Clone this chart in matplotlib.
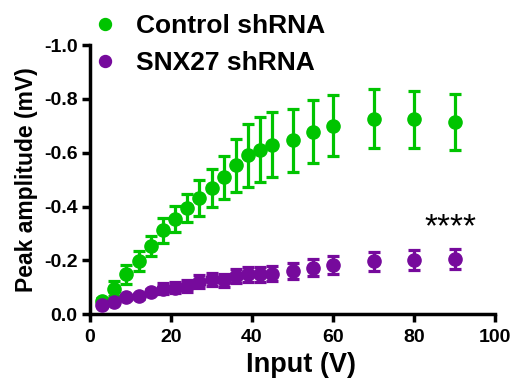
import matplotlib
matplotlib.use("Agg")
import matplotlib.pyplot as plt

plt.rcParams['font.family'] = ['Liberation Sans', 'DejaVu Sans']
plt.rcParams['font.weight'] = 'bold'
plt.rcParams['axes.unicode_minus'] = False

inputs = [3, 6, 9, 12, 15, 18, 21, 24, 27, 30, 33, 36, 39, 42, 45, 50, 55, 60, 70, 80, 90]
control_mean = [-0.05, -0.095, -0.148, -0.197, -0.253, -0.312, -0.354, -0.395, -0.432, -0.469,
                -0.509, -0.553, -0.59, -0.611, -0.63, -0.646, -0.677, -0.70, -0.726, -0.725, -0.714]
control_err = [0.01, 0.028, 0.036, 0.037, 0.037, 0.046, 0.049, 0.052, 0.068, 0.072,
               0.08, 0.099, 0.118, 0.12, 0.12, 0.118, 0.117, 0.114, 0.11, 0.106, 0.105]
snx_mean = [-0.035, -0.047, -0.062, -0.066, -0.084, -0.095, -0.098, -0.105, -0.121, -0.13,
            -0.126, -0.142, -0.148, -0.148, -0.151, -0.16, -0.173, -0.183, -0.197, -0.201, -0.204]
snx_err = [0.005, 0.006, 0.008, 0.008, 0.01, 0.02, 0.02, 0.022, 0.024, 0.024,
           0.025, 0.026, 0.027, 0.028, 0.029, 0.03, 0.031, 0.033, 0.035, 0.037, 0.038]
yticks = [0.0, -0.2, -0.4, -0.6, -0.8, -1.0]
xticks = [0, 20, 40, 60, 80, 100]

green = '#00c400'
purple = '#760a9c'

fig = plt.figure(figsize=(5.16, 3.85), dpi=100)
ax = fig.add_axes([0.1744, 0.184, 0.785, 0.699])

ax.errorbar(inputs, control_mean, yerr=control_err, fmt='o', color=green, ms=9.5,
            elinewidth=2.3, capsize=4, capthick=2.3, clip_on=False, zorder=3)
ax.errorbar(inputs, snx_mean, yerr=snx_err, fmt='o', color=purple, ms=9.5,
            elinewidth=2.3, capsize=4, capthick=2.3, clip_on=False, zorder=3)

ax.set_xlim(0, 100)
ax.set_ylim(0, -1.0)
ax.set_xticks(xticks)
ax.set_yticks(yticks)
ax.set_yticklabels([f"{v:.1f}" for v in yticks])
for s in ['top', 'right']:
    ax.spines[s].set_visible(False)
for s in ['left', 'bottom']:
    ax.spines[s].set_linewidth(2.5)
ax.tick_params(width=2.5, length=6, labelsize=14, direction='out', pad=3)
ax.tick_params(axis='x', pad=5)
for lab in ax.get_xticklabels() + ax.get_yticklabels():
    lab.set_fontweight('bold')

ax.set_xlabel('Input (V)', fontsize=19.5, fontweight='bold', labelpad=4)
ax.xaxis.label.set_x(0.522)
ax.set_ylabel('Peak amplitude (mV)', fontsize=16.5, fontweight='bold', labelpad=4)

ax.text(89, -0.29, '****', fontsize=24, ha='center', va='baseline', fontweight='normal')

leg = fig.legend(handles=[
    plt.Line2D([], [], marker='o', ls='', color=green, ms=8.6, label='Control shRNA'),
    plt.Line2D([], [], marker='o', ls='', color=purple, ms=8.6, label='SNX27 shRNA')],
    loc='upper left', bbox_to_anchor=(0.126, 1.025), frameon=False,
    prop={'size': 19, 'weight': 'bold'}, handletextpad=0.6, labelspacing=0.5,
    handlelength=1.2)

fig.savefig('out.png', dpi=100)
